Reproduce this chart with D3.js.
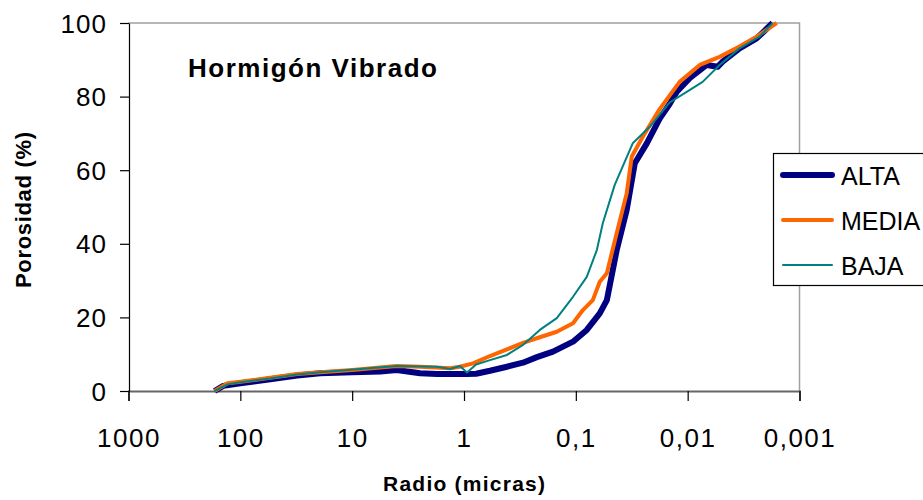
<!DOCTYPE html>
<html>
<head>
<meta charset="utf-8">
<script src="https://cdn.jsdelivr.net/npm/d3@7"></script>
<style>
  body { margin: 0; background: #fff; }
  text { font-family: "Liberation Sans", Arial, sans-serif; }
</style>
</head>
<body>
<div class="chart"></div>
<script>
(function() {

  // radio (micras) and porosidad (%) for each series
  const altaRadio = [170, 142, 100, 54, 31, 19.3, 10, 5.6, 4.0, 2.47, 1.74, 0.94, 0.78, 0.586, 0.413, 0.297, 0.223, 0.160, 0.106, 0.0798, 0.0611, 0.0528, 0.0431, 0.0351, 0.0297, 0.0232, 0.0178, 0.0145, 0.0125, 0.0096, 0.00676, 0.0054, 0.00487, 0.00344, 0.00242, 0.00174];
  const altaPoros = [0, 1.4, 2.1, 3.2, 4.2, 4.8, 5.1, 5.3, 5.7, 4.8, 4.6, 4.6, 4.7, 5.5, 6.6, 7.7, 9.2, 10.7, 13.4, 16.6, 21.1, 24.7, 38.3, 49.2, 61.9, 67.3, 74, 78, 81.3, 85, 88.6, 88.1, 89.5, 93.1, 95.8, 100];

  const mediaRadio = [170, 130, 100, 54, 31, 19.3, 10, 4.0, 2.47, 1.33, 1.09, 0.83, 0.586, 0.413, 0.297, 0.21, 0.148, 0.106, 0.0865, 0.0705, 0.0611, 0.0528, 0.0431, 0.0351, 0.0316, 0.0252, 0.0178, 0.0118, 0.0078, 0.00518, 0.00344, 0.00242, 0.0016];
  const mediaPoros = [0, 2.1, 2.5, 3.6, 4.6, 5.1, 5.7, 6.8, 6.6, 6.2, 6.6, 7.5, 9.5, 11.3, 13.1, 14.6, 16.1, 18.4, 22, 24.7, 29.7, 32, 42.9, 53.7, 63.7, 69.1, 76.6, 84, 88.6, 90.8, 93.6, 96.3, 100];

  const bajaRadio = [170, 130, 100, 54, 31, 19.3, 8.5, 4.0, 1.74, 1.33, 1.09, 0.94, 0.78, 0.586, 0.413, 0.297, 0.21, 0.148, 0.106, 0.0798, 0.0649, 0.0574, 0.0449, 0.031, 0.0218, 0.0145, 0.0102, 0.00735, 0.00518, 0.00344, 0.00228, 0.00174];
  const bajaPoros = [0, 1.8, 2.4, 3.4, 4.5, 5.1, 6.0, 6.8, 6.6, 6.0, 6.8, 5.0, 7.2, 8.4, 9.8, 12.5, 16.6, 19.8, 25.6, 31, 38.3, 45.6, 56, 67.3, 71.8, 78.4, 81.3, 84, 88.6, 93.1, 96.3, 100];

  const seriesNames = ['ALTA', 'MEDIA', 'BAJA'];
  const xTicks = [1000, 100, 10, 1, 0.1, 0.01, 0.001];
  const xTickLabels = ['1000', '100', '10', '1', '0,1', '0,01', '0,001'];
  const yTicks = [0, 20, 40, 60, 80, 100];

  const colors = { ALTA: '#000080', MEDIA: '#ff6600', BAJA: '#008080' };
  const widths = { ALTA: 6, MEDIA: 4, BAJA: 2 };

  const series = [
    { name: 'ALTA', values: altaRadio.map((r, i) => ({ r: r, p: altaPoros[i] })) },
    { name: 'MEDIA', values: mediaRadio.map((r, i) => ({ r: r, p: mediaPoros[i] })) },
    { name: 'BAJA', values: bajaRadio.map((r, i) => ({ r: r, p: bajaPoros[i] })) }
  ];

  let svg = d3.select('.chart').append('svg')
    .attr('width', 923)
    .attr('height', 500);

  let xScale = d3.scaleLog()
    .domain([1000, 0.001])
    .range([128.5, 799.5]);

  let yScale = d3.scaleLinear()
    .domain([0, 100])
    .range([391, 23]);

  // plot area border (top and right)
  svg.append('path')
    .attr('d', `M${xScale(1000)},${yScale(100)}H${xScale(0.001)}V${yScale(0)}`)
    .attr('fill', 'none')
    .attr('stroke', '#a0a0a0')
    .attr('stroke-width', 1.5);

  // x axis
  let xAxis = d3.axisBottom(xScale)
    .tickValues(xTicks)
    .tickSize(10)
    .tickFormat((d, i) => xTickLabels[i]);

  let gx = svg.append('g')
    .attr('transform', 'translate(0,391)')
    .call(xAxis);
  gx.select('.domain').attr('stroke', '#666').attr('stroke-width', 2);
  gx.selectAll('.tick line').attr('stroke', '#000').attr('stroke-width', 1.2);
  gx.selectAll('.tick text')
    .attr('y', 0)
    .attr('dy', 56)
    .attr('font-size', 26)
    .attr('letter-spacing', 1.5)
    .attr('fill', '#000');

  // y axis
  let yAxis = d3.axisLeft(yScale)
    .tickValues(yTicks)
    .tickSize(9)
    .tickSizeOuter(0);

  let gy = svg.append('g')
    .attr('transform', 'translate(129,0)')
    .call(yAxis);
  gy.select('.domain').attr('stroke', '#000').attr('stroke-width', 1.2);
  gy.selectAll('.tick line').attr('stroke', '#000').attr('stroke-width', 1.2);
  gy.selectAll('.tick text')
    .attr('x', -22)
    .attr('dy', '0.35em')
    .attr('font-size', 26)
    .attr('letter-spacing', 1)
    .attr('fill', '#000');

  // curves
  let line = d3.line()
    .x((d) => xScale(d.r))
    .y((d) => yScale(d.p));

  svg.selectAll('.curve')
    .data(series)
    .enter()
    .append('path')
      .attr('class', 'curve')
      .attr('d', (d) => line(d.values))
      .attr('fill', 'none')
      .attr('stroke', (d) => colors[d.name])
      .attr('stroke-width', (d) => widths[d.name])
      .attr('stroke-linejoin', 'round');

  // titles
  svg.append('text')
    .attr('x', 188)
    .attr('y', 77)
    .attr('font-size', 26)
    .attr('font-weight', 'bold')
    .attr('textLength', 249)
    .attr('lengthAdjust', 'spacing')
    .text('Hormigón Vibrado');

  svg.append('text')
    .attr('x', 383)
    .attr('y', 491)
    .attr('font-size', 21)
    .attr('font-weight', 'bold')
    .attr('textLength', 162)
    .attr('lengthAdjust', 'spacing')
    .text('Radio (micras)');

  svg.append('text')
    .attr('transform', 'translate(31,288)rotate(-90)')
    .attr('font-size', 22)
    .attr('font-weight', 'bold')
    .attr('textLength', 156)
    .attr('lengthAdjust', 'spacing')
    .text('Porosidad (%)');

  // legend
  let legend = svg.append('g');
  legend.append('rect')
    .attr('x', 773.5)
    .attr('y', 153.5)
    .attr('width', 200)
    .attr('height', 132)
    .attr('fill', '#fff')
    .attr('stroke', '#000')
    .attr('stroke-width', 1.2);

  seriesNames.forEach((name, i) => {
    let y = 175 + i * 45;
    legend.append('line')
      .attr('x1', 783)
      .attr('x2', 832)
      .attr('y1', y)
      .attr('y2', y)
      .attr('stroke', colors[name])
      .attr('stroke-width', widths[name])
      .attr('stroke-linecap', 'round');
    legend.append('text')
      .attr('x', 841)
      .attr('y', y + 10)
      .attr('font-size', 25)
      .text(name);
  });

})();
</script>
</body>
</html>
